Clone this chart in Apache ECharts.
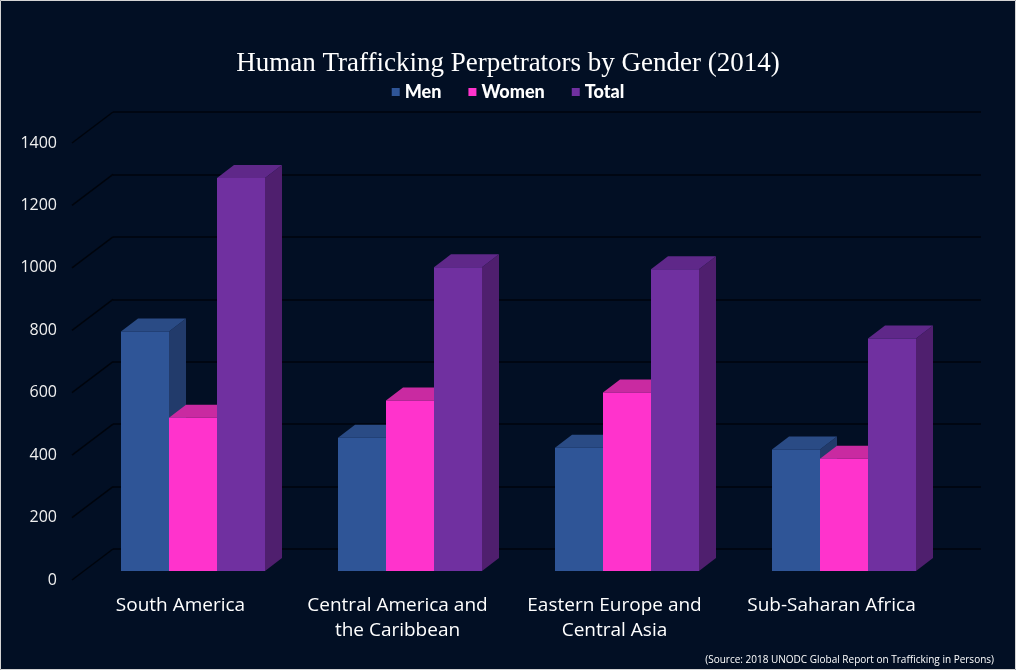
<!DOCTYPE html>
<html>
<head>
<meta charset="utf-8">
<script src="https://cdn.jsdelivr.net/npm/echarts@6/dist/echarts.min.js"></script>
<style>
  html, body { margin: 0; padding: 0; background: #020f24; }
  #chart { width: 1016px; height: 670px; }
</style>
</head>
<body>
<div id="chart"></div>
<script>
// ---- data ----
const categories = ['South America', 'Central America and\nthe Caribbean', 'Eastern Europe and\nCentral Asia', 'Sub-Saharan Africa'];
const seriesNames = ['Men', 'Women', 'Total'];
const men = [767, 427, 395, 389];
const women = [491, 546, 572, 360];
const total = [1259, 973, 967, 745];
const yTicks = [0, 200, 400, 600, 800, 1000, 1200, 1400];
const titleText = 'Human Trafficking Perpetrators by Gender (2014)';
const sourceText = '(Source: 2018 UNODC Global Report on Trafficking in Persons)';

// ---- style constants ----
const BG = '#020f24';
const GRID_LINE = '#00040c';
const PALETTE = {
  Men:   { front: '#2f5597', top: '#2a4b85', side: '#223b6b' },
  Women: { front: '#ff33cc', top: '#c92aa1', side: '#b0238c' },
  Total: { front: '#7030a0', top: '#5f2889', side: '#4f1f6e' }
};
const BAR_FRAC = 48 / 217;      // bar width as share of category band
const FRONT_DX = 12.5, FRONT_DY = -9;  // bar front plane offset from axis plane
const DEPTH_DX = 17, DEPTH_DY = -13;  // bar depth
const WALL_DX = 41, WALL_DY = -31;    // back wall offset

function barSeries(name, values, idx) {
  const c = PALETTE[name];
  return {
    name: name,
    type: 'custom',
    xAxisIndex: 0, yAxisIndex: 0,
    z: 3 + idx,
    itemStyle: { color: c.front },
    encode: { x: 0, y: 1 },
    data: values.map((v, i) => [i, v]),
    renderItem: function (params, api) {
      const cat = api.value(0), val = api.value(1);
      const base = api.coord([cat, 0]);
      const top = api.coord([cat, val]);
      const band = api.size([1, 0])[0];
      const bw = band * BAR_FRAC;
      const x0 = base[0] + FRONT_DX - 1.5 * bw + idx * bw;
      const y0 = base[1] + FRONT_DY;
      const y1 = top[1] + FRONT_DY;
      return {
        type: 'group',
        children: [
          { type: 'polygon', shape: { points: [[x0 + bw, y1], [x0 + bw + DEPTH_DX, y1 + DEPTH_DY], [x0 + bw + DEPTH_DX, y0 + DEPTH_DY], [x0 + bw, y0]] }, style: { fill: c.side } },
          { type: 'polygon', shape: { points: [[x0, y1], [x0 + bw, y1], [x0 + bw + DEPTH_DX, y1 + DEPTH_DY], [x0 + DEPTH_DX, y1 + DEPTH_DY]] }, style: { fill: c.top } },
          { type: 'rect', shape: { x: x0, y: y1, width: bw, height: y0 - y1 }, style: { fill: c.front } }
        ]
      };
    }
  };
}

const chart = echarts.init(document.getElementById('chart'), null, { renderer: 'canvas' });
const option = {
  backgroundColor: BG,
  animation: false,
  title: [
    { text: titleText, left: 'center', top: 45,
      textStyle: { color: '#ffffff', fontFamily: 'Liberation Serif', fontSize: 27, fontWeight: 'normal' } },
    { text: sourceText, right: 17, bottom: 0,
      textStyle: { color: '#ffffff', fontFamily: 'Open Sans', fontSize: 10, fontWeight: 'normal' } }
  ],
  legend: {
    data: seriesNames,
    top: 78, left: 'center',
    icon: 'rect', itemWidth: 8, itemHeight: 8, itemGap: 27,
    textStyle: { color: '#ffffff', fontFamily: 'Lato', fontWeight: 900, fontSize: 18 }
  },
  grid: [
    { left: 72, right: 76, top: 143, bottom: 90 },
    { left: 72 + WALL_DX, right: 76 - WALL_DX, top: 143 + WALL_DY, bottom: 90 - WALL_DY }
  ],
  xAxis: [
    { type: 'category', gridIndex: 0, data: categories,
      axisLine: { show: false }, axisTick: { show: false }, splitLine: { show: false },
      axisLabel: { color: '#ffffff', fontFamily: 'Open Sans', fontSize: 19, lineHeight: 25, margin: 13, interval: 0 } },
    { type: 'category', gridIndex: 1, data: categories, show: false }
  ],
  yAxis: [
    { type: 'value', gridIndex: 0, min: 0, max: 1400, interval: 200,
      axisLine: { show: false }, axisTick: { show: false }, splitLine: { show: false },
      axisLabel: { color: '#f0f0f0', fontFamily: 'Open Sans', fontSize: 16, margin: 15,
                   formatter: v => String(v) } },
    { type: 'value', gridIndex: 1, min: 0, max: 1400, interval: 200,
      axisLine: { show: false }, axisTick: { show: false }, axisLabel: { show: false },
      splitLine: { show: true, lineStyle: { color: GRID_LINE, width: 1.5 } } }
  ],
  series: [
    {
      name: 'walls', type: 'custom', xAxisIndex: 0, yAxisIndex: 0, z: 1,
      silent: true, legendHoverLink: false,
      encode: { x: 0, y: 1 },
      data: yTicks.map(t => [0, t]),
      renderItem: function (params, api) {
        const p = api.coord([0, api.value(1)]);
        const x = params.coordSys.x;
        return { type: 'line', shape: { x1: x, y1: p[1], x2: x + WALL_DX, y2: p[1] + WALL_DY },
                 style: { stroke: GRID_LINE, lineWidth: 1.5 } };
      }
    },
    barSeries('Men', men, 0),
    barSeries('Women', women, 1),
    barSeries('Total', total, 2)
  ],
  graphic: [
    { type: 'rect', z: 100, silent: true, shape: { x: 0.5, y: 0.5, width: 1015, height: 669 },
      style: { fill: 'none', stroke: '#d4d4d4', lineWidth: 1 } }
  ]
};
chart.setOption(option);
</script>
</body>
</html>
